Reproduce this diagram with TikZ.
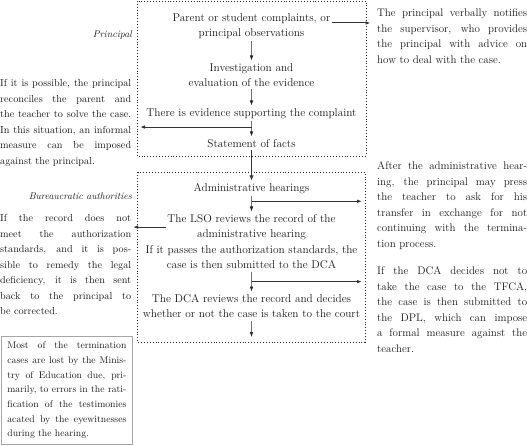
\documentclass[tikz,border=0pt]{standalone}
\usetikzlibrary{arrows.meta}
\tolerance=10000
\hyphenpenalty=10000
\begin{document}
\begin{tikzpicture}[x=1pt,y=-1pt,
  flow/.style={align=center, inner xsep=1pt, inner ysep=2.5pt, anchor=north, font=\fontsize{11.3}{15.5}\selectfont, text=black!90},
  side/.style={align=justify, inner sep=0pt, anchor=north west, text=black!90},
  rside/.style={side, text width=150pt, font=\fontsize{11}{15.5}\selectfont},
  lside/.style={side, text width=131pt, font=\fontsize{10.2}{15.5}\selectfont},
  role/.style={inner sep=0pt, anchor=base east, text=black!90, font=\fontsize{9.8}{11}\selectfont\itshape},
  dotbox/.style={draw=black!85, dotted, line width=0.9pt},
  thinarr/.style={draw=black!55, line width=0.6pt, -{Latex[length=5pt,width=3.6pt,color=black!85]}},
  hzarr/.style={draw=black!80, line width=1pt, -{Latex[length=5pt,width=3.6pt]}},
  bigarr/.style={draw=black!80, line width=1.6pt, -{Latex[length=5pt,width=4.5pt]}},
  notebox/.style={draw=black!35, line width=0.8pt, anchor=north west, align=justify, text width=119pt, inner xsep=6pt, inner ysep=5.5pt, text=black!90, font=\fontsize{9.7}{14.7}\selectfont},
]
\useasboundingbox (0,0) rectangle (527,446);

% dotted frames
\draw[dotbox] (137,1) rectangle (366,156);
\draw[dotbox] (137,172) rectangle (365,342);

% edge coordinates
\coordinate (edgeLa) at (140,0);
\coordinate (edgeLb) at (133,0);
\coordinate (edgeR) at (362,0);
\coordinate (endc) at (251.5,337);

% flow nodes
\node[flow] (n1) at (251.5,10.5) {Parent or student complaints, or\\principal observations};
\node[flow] (n2) at (251.5,60.5) {Investigation and\\evaluation of the evidence};
\node[flow] (n3) at (251.5,105.5) {There is evidence supporting the complaint};
\node[flow] (n4) at (251.5,136.5) {Statement of facts};
\node[flow] (n5) at (251.5,180.5) {Administrative hearings};
\node[flow] (n6) at (251.5,211.5) {The LSO reviews the record of the\\administrative hearing};
\node[flow] (n7) at (251.5,242.5) {If it passes the authorization standards, the\\case is then submitted to the DCA};
\node[flow] (n8) at (251.5,291.5) {The DCA reviews the record and decides\\whether or not the case is taken to the court};

% side labels
\node[role] (r1) at (132,37.5) {Principal};
\node[role] (r2) at (132,200) {Bureaucratic authorities};

% side texts
\node[lside] (s1) at (0,79.2) {If it is possible, the principal\linebreak reconciles the parent and\linebreak the teacher to solve the case.\linebreak In this situation, an informal\linebreak measure can be imposed\linebreak against the principal.};
\node[lside] (s2) at (0,214.2) {If the record does not\linebreak meet the authorization\linebreak standards, and it is pos-\linebreak sible to remedy the legal\linebreak deficiency, it is then sent\linebreak back to the principal to\linebreak be corrected.};
\node[rside] (s3) at (377,8.8) {The principal verbally notifies\linebreak the supervisor, who provides\linebreak the principal with advice on\linebreak how to deal with the case.};
\node[rside] (s4) at (377,161.8) {After the administrative hear-\linebreak ing, the principal may press\linebreak the teacher to ask for his\linebreak transfer in exchange for not\linebreak continuing with the termina-\linebreak tion process.};
\node[rside] (s5) at (377,266.8) {If the DCA decides not to\linebreak take the case to the TFCA,\linebreak the case is then submitted to\linebreak the DPL, which can impose\linebreak a formal measure against the\linebreak teacher.};

\node[notebox] (nb) at (1,336) {Most of the termination\linebreak cases are lost by the Minis-\linebreak try of Education due, pri-\linebreak marily, to errors in the rati-\linebreak fication of the testimonies\linebreak acated by the eyewitnesses\linebreak during the hearing.};

% connectors
\path ([yshift=3pt]n1.east) coordinate (a1) ++(39,0) coordinate (rt1);
\draw[hzarr] (a1) -- (rt1);
\draw[thinarr] (n1.south) -- (n2.north);
\draw[thinarr] (n2.south) -- (n3.north);
\path (n3.south) ++(0,6) coordinate (c3);
\draw[thinarr] (n3.south) -- (n4.north);
\draw[hzarr] (c3) -- (c3 -| edgeLa);
\draw[bigarr] (n4.south) -- (n5.north);
\draw[thinarr] (n5.south) -- (n6.north);
\path (n5.south) ++(0,5) coordinate (c5);
\draw[hzarr] (c5) -- (c5 -| edgeR);
\draw[hzarr] (n6.west) -- (n6.west -| edgeLb);
\draw[thinarr] (n7.south) -- (n8.north);
\path (n7.south) ++(0,10) coordinate (c7);
\draw[hzarr] (c7) -- (c7 -| edgeR);
\draw[thinarr] (n8.south) -- (endc);
\end{tikzpicture}
\end{document}
